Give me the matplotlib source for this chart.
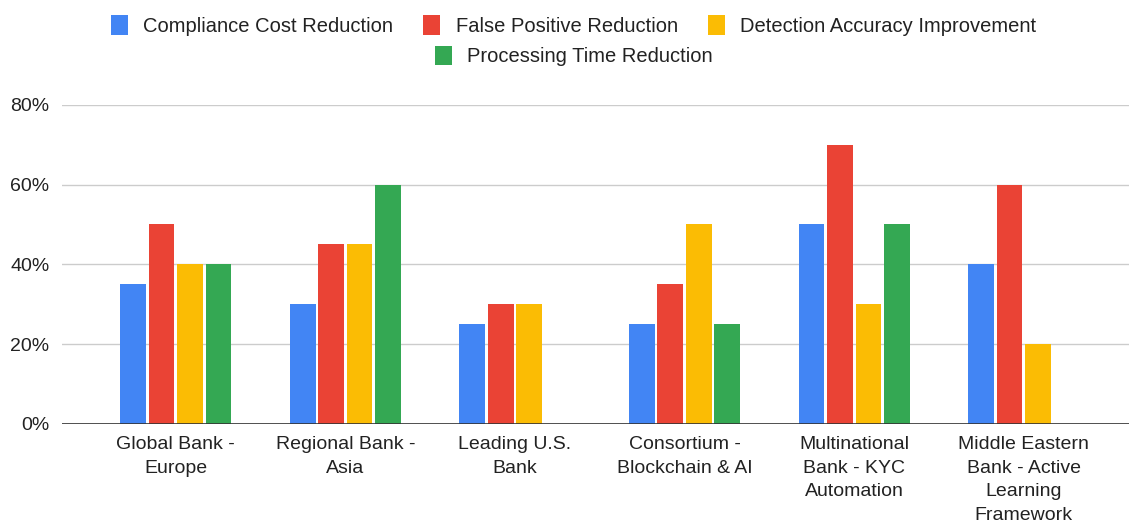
import matplotlib.pyplot as plt
import numpy as np
from matplotlib.patches import Patch

plt.rcParams["font.family"] = ["Liberation Sans", "DejaVu Sans"]

categories = [
    "Global Bank -\nEurope",
    "Regional Bank -\nAsia",
    "Leading U.S.\nBank",
    "Consortium -\nBlockchain & AI",
    "Multinational\nBank - KYC\nAutomation",
    "Middle Eastern\nBank - Active\nLearning\nFramework",
]
series_names = [
    "Compliance Cost Reduction",
    "False Positive Reduction",
    "Detection Accuracy Improvement",
    "Processing Time Reduction",
]
compliance_cost = [35, 30, 25, 25, 50, 40]
false_positive = [50, 45, 30, 35, 70, 60]
detection_accuracy = [40, 45, 30, 50, 30, 20]
processing_time = [40, 60, np.nan, 25, 50, np.nan]
colors = ["#4285F4", "#EA4335", "#FBBC04", "#34A853"]

series = [compliance_cost, false_positive, detection_accuracy, processing_time]

fig = plt.figure(figsize=(11.29, 5.24), dpi=100)
ax = fig.add_axes([0.055, 0.191, 0.945, 0.609])

x = np.arange(len(categories))
pitch = 0.168
width = 0.152
for i, (vals, col) in enumerate(zip(series, colors)):
    ax.bar(x + (i - 1.5) * pitch, vals, width=width, color=col, zorder=3)

ax.set_xlim(-0.67, 5.62)
ax.set_ylim(0, 80)
ax.set_yticks([0, 20, 40, 60, 80])
ax.set_yticklabels([f"{v}%" for v in [0, 20, 40, 60, 80]])
ax.grid(axis="y", color="#cccccc", linewidth=1, zorder=0)
ax.axhline(0, color="#333333", linewidth=1.2, zorder=4)
for s in ax.spines.values():
    s.set_visible(False)
ax.tick_params(axis="both", length=0, labelsize=14, colors="#222222")
ax.tick_params(axis="y", pad=9)
ax.set_xticks(x)
ax.set_xticklabels(categories, linespacing=1.5, ha="center", va="top")
ax.tick_params(axis="x", pad=9)

handles = [Patch(facecolor=c, edgecolor="none") for c in colors]
leg_kw = dict(frameon=False, fontsize=14.5, handlelength=0.85, handleheight=1.1,
              handletextpad=0.75, columnspacing=1.5, borderaxespad=0)
leg1 = fig.legend(handles[:3], series_names[:3], ncol=3, loc="center",
                  bbox_to_anchor=(0.508, 0.951), **leg_kw)
leg2 = fig.legend(handles[3:], series_names[3:], ncol=1, loc="center",
                  bbox_to_anchor=(0.508, 0.893), **leg_kw)
for leg in (leg1, leg2):
    for t in leg.get_texts():
        t.set_color("#222222")

fig.savefig("out.png", dpi=100)
